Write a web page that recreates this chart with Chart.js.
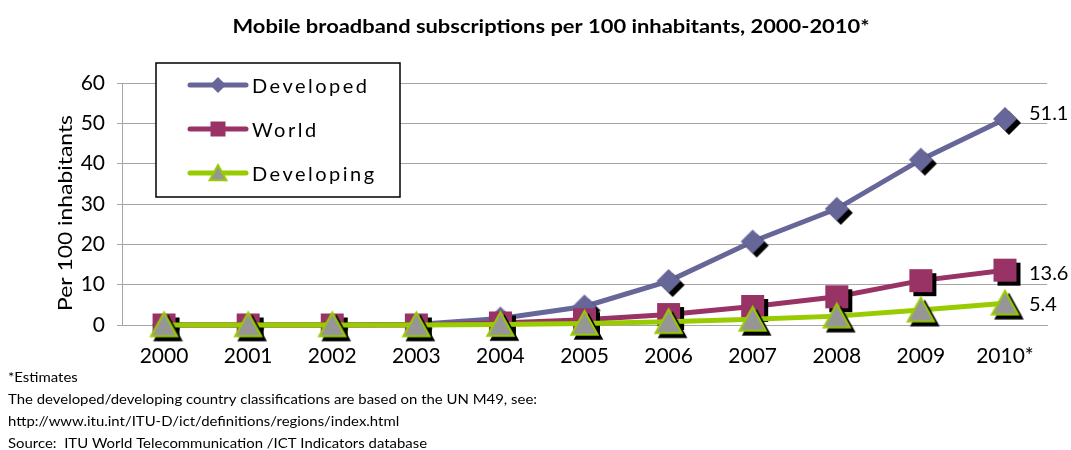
<!DOCTYPE html>
<html>
<head>
<meta charset="utf-8">
<script src="https://cdn.jsdelivr.net/npm/chart.js@4.4.1/dist/chart.umd.min.js"></script>
<style>
  html, body { margin: 0; padding: 0; background: #fff; }
  #wrap { position: relative; width: 1071px; height: 450px; }
</style>
</head>
<body>
<div id="wrap"><canvas id="chart" width="1071" height="450"></canvas></div>
<script>
const years = ['2000', '2001', '2002', '2003', '2004', '2005', '2006', '2007', '2008', '2009', '2010*'];
const developed = [0, 0, 0, 0.1, 1.6, 4.6, 10.9, 20.7, 28.8, 41.0, 51.1];
const world = [0, 0, 0, 0, 0.5, 1.3, 2.6, 4.6, 7.0, 11.0, 13.6];
const developing = [0, 0, 0, 0, 0.1, 0.4, 0.8, 1.4, 2.2, 3.7, 5.4];
const endLabels = ['51.1', '13.6', '5.4'];
const titleText = 'Mobile broadband subscriptions per 100 inhabitants, 2000-2010*';
const notes = [
  '*Estimates',
  'The developed/developing country classifications are based on the UN M49, see:',
  'http://www.itu.int/ITU-D/ict/definitions/regions/index.html',
  'Source:  ITU World Telecommunication /ICT Indicators database'
];

const FONT = 'Lato, "Open Sans", sans-serif';
const purple = '#666699';
const plum = '#993366';
const lime = '#99cc00';
const grey = '#969696';

// ================================
// marker drawing (shape + optional black shadow)
// ================================
function shapePath(ctx, kind, cx, cy, r) {
  ctx.beginPath();
  if (kind === 'diamond') {
    ctx.moveTo(cx, cy - r); ctx.lineTo(cx + r, cy); ctx.lineTo(cx, cy + r); ctx.lineTo(cx - r, cy);
  } else if (kind === 'square') {
    ctx.rect(cx - r, cy - r, 2 * r, 2 * r);
  } else {
    ctx.moveTo(cx, cy - r); ctx.lineTo(cx + r * 1.05, cy + r * 0.9); ctx.lineTo(cx - r * 1.05, cy + r * 0.9);
  }
  ctx.closePath();
}

function drawMarker(ctx, kind, cx, cy, r, fill, stroke) {
  shapePath(ctx, kind, cx, cy, r);
  ctx.fillStyle = fill;
  ctx.fill();
  if (stroke) {
    ctx.strokeStyle = stroke;
    ctx.lineWidth = 2;
    ctx.lineJoin = 'miter';
    ctx.stroke();
  }
}

function markerImage(kind, r, fill, stroke) {
  const off = 4;
  const size = Math.ceil(2 * (r + off + 3));
  const c = document.createElement('canvas');
  c.width = size; c.height = size;
  const g = c.getContext('2d');
  const m = size / 2;
  drawMarker(g, kind, m + off, m + off, r, '#000', stroke ? '#000' : null);
  drawMarker(g, kind, m, m, r, fill, stroke);
  return c;
}

const diamondImg = markerImage('diamond', 12, purple);
const squareImg = markerImage('square', 11.5, plum);
const triangleImg = markerImage('triangle', 12.5, grey, lime);

// text squeezed/stretched along its run to a wanted width
function fitText(ctx, text, x, y, width) {
  const w = ctx.measureText(text).width;
  ctx.save();
  ctx.translate(x, y);
  ctx.scale(width / w, 1);
  ctx.fillText(text, 0, 0);
  ctx.restore();
}

// ================================
// extra drawing: title, axis title, legend, end labels, notes
// ================================
const decorPlugin = {
  id: 'decor',
  afterDraw(chart) {
    const ctx = chart.ctx;
    ctx.save();

    // title
    ctx.fillStyle = '#000';
    ctx.font = 'bold 18px ' + FONT;
    ctx.textAlign = 'center';
    ctx.textBaseline = 'middle';
    fitText(ctx, titleText, 551, 27, 637);

    // y axis title
    ctx.save();
    ctx.translate(66, 213);
    ctx.rotate(-Math.PI / 2);
    ctx.font = '20px ' + FONT;
    fitText(ctx, 'Per 100 inhabitants', 0, 0, 196);
    ctx.restore();

    // legend box
    ctx.fillStyle = '#fff';
    ctx.fillRect(156, 63, 244, 134);
    ctx.strokeStyle = '#000';
    ctx.lineWidth = 1.5;
    ctx.strokeRect(156, 63, 244, 134);

    const rows = [
      { label: 'Developed', color: purple, kind: 'diamond', fill: purple, r: 8, y: 85 },
      { label: 'World', color: plum, kind: 'square', fill: plum, r: 7.5, y: 129 },
      { label: 'Developing', color: lime, kind: 'triangle', fill: grey, stroke: lime, r: 8, y: 173 }
    ];
    rows.forEach(row => {
      ctx.strokeStyle = row.color;
      ctx.lineWidth = 5;
      ctx.lineCap = 'round';
      ctx.beginPath();
      ctx.moveTo(190, row.y);
      ctx.lineTo(246, row.y);
      ctx.stroke();
      drawMarker(ctx, row.kind, 218, row.y, row.r, row.fill, row.stroke);
      ctx.fillStyle = '#000';
      ctx.font = '20px ' + FONT;
      ctx.textAlign = 'left';
      ctx.textBaseline = 'middle';
      ctx.letterSpacing = '2.5px';
      ctx.fillText(row.label, 252, row.y + 2);
      ctx.letterSpacing = '0px';
    });

    // labels on the last points
    ctx.font = '20px ' + FONT;
    ctx.textAlign = 'left';
    ctx.textBaseline = 'middle';
    ctx.fillStyle = '#000';
    const last = years.length - 1;
    const dy = [-5, 3, 1];
    [0, 1, 2].forEach((di, i) => {
      const pt = chart.getDatasetMeta(di).data[last];
      ctx.fillText(endLabels[i], pt.x + 24, pt.y + dy[i]);
    });

    // footnotes
    ctx.font = '14px ' + FONT;
    const k = 529 / ctx.measureText(notes[1]).width;
    notes.forEach((line, i) => {
      fitText(ctx, line, 8, 377 + i * 22, ctx.measureText(line).width * k);
    });

    ctx.restore();
  }
};

new Chart(document.getElementById('chart'), {
  type: 'line',
  data: {
    labels: years,
    datasets: [
      {
        label: 'Developed',
        data: developed,
        borderColor: purple,
        borderWidth: 5,
        pointStyle: diamondImg,
        order: 3,
        clip: false
      },
      {
        label: 'World',
        data: world,
        borderColor: plum,
        borderWidth: 5,
        pointStyle: squareImg,
        order: 2,
        clip: false
      },
      {
        label: 'Developing',
        data: developing,
        borderColor: lime,
        borderWidth: 5,
        pointStyle: triangleImg,
        order: 1,
        clip: false
      }
    ]
  },
  options: {
    responsive: false,
    animation: false,
    layout: { padding: { top: 83, right: 24, left: 0, bottom: 0 } },
    plugins: {
      legend: { display: false },
      tooltip: { enabled: false }
    },
    scales: {
      x: {
        offset: true,
        grid: { display: false },
        border: { display: true, color: '#a6a6a6' },
        ticks: { color: '#000', font: { size: 21, family: FONT }, padding: 11, maxRotation: 0 },
        afterFit(scale) { scale.height = 125; }
      },
      y: {
        min: 0,
        max: 60,
        ticks: { stepSize: 10, color: '#000', font: { size: 21, family: FONT }, padding: 12 },
        grid: { color: '#a6a6a6', tickLength: 5 },
        border: { color: '#a6a6a6' },
        afterFit(scale) { scale.width = 122; }
      }
    }
  },
  plugins: [decorPlugin]
});
</script>
</body>
</html>
